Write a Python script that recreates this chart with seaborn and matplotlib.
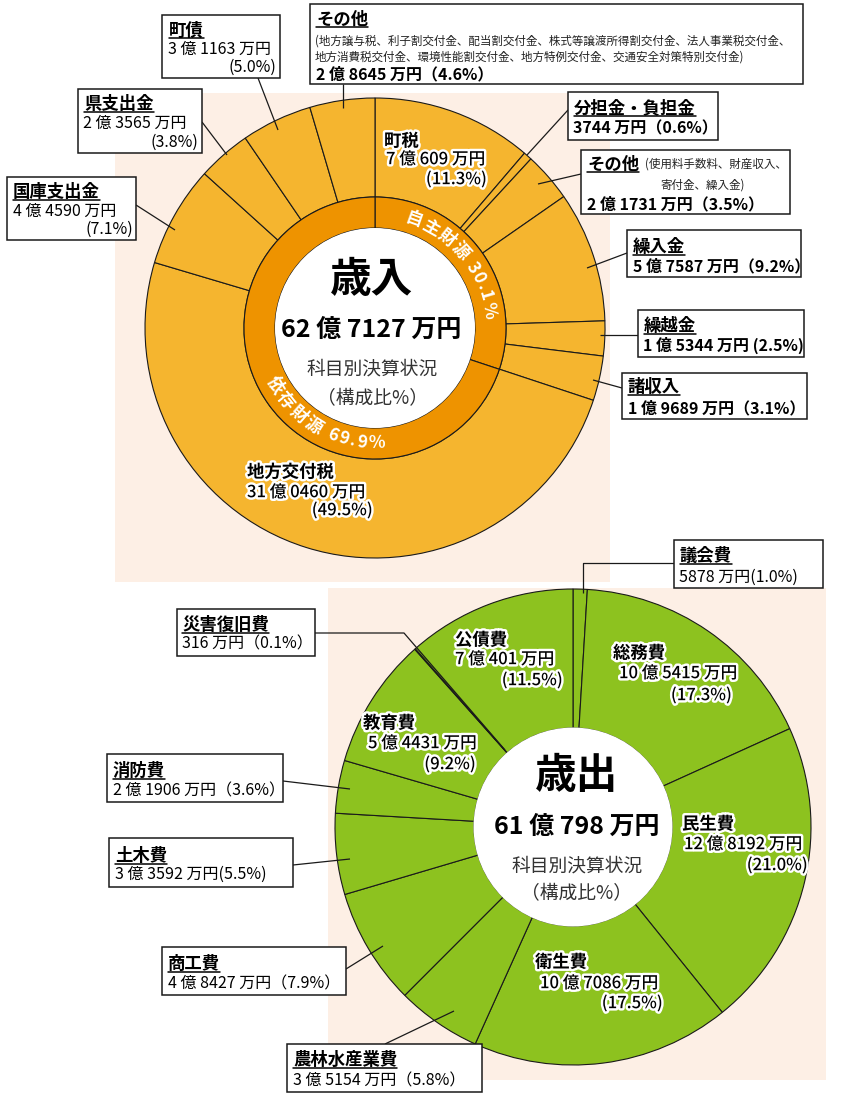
import numpy as np
import matplotlib
matplotlib.use("Agg")
import matplotlib.pyplot as plt
import matplotlib.patheffects as pe
import seaborn as sns
from matplotlib.patches import Rectangle, Circle
from matplotlib.font_manager import FontProperties

# ---- data (万円) ----
rev_labels = ["町税", "分担金・負担金", "その他", "繰入金", "繰越金", "諸収入",
              "地方交付税", "国庫支出金", "県支出金", "町債", "その他"]
rev_amounts = ["7 億 609 万円", "3744 万円", "2 億 1731 万円", "5 億 7587 万円",
               "1 億 5344 万円", "1 億 9689 万円", "31 億 0460 万円", "4 億 4590 万円",
               "2 億 3565 万円", "3 億 1163 万円", "2 億 8645 万円"]
rev_values = [70609, 3744, 21731, 57587, 15344, 19689, 310460, 44590, 23565, 31163, 28645]
rev_pcts = [11.3, 0.6, 3.5, 9.2, 2.5, 3.1, 49.5, 7.1, 3.8, 5.0, 4.6]
source_labels = ["自主財源", "依存財源"]
source_pcts = [30.1, 69.9]
rev_total = "62 億 7127 万円"
rev_note_other = ["(地方譲与税、利子割交付金、配当割交付金、株式等譲渡所得割交付金、法人事業税交付金、",
                  "地方消費税交付金、環境性能割交付金、地方特例交付金、交通安全対策特別交付金)"]
rev_note_own = ["(使用料手数料、財産収入、", "寄付金、繰入金)"]

exp_labels = ["議会費", "総務費", "民生費", "衛生費", "農林水産業費", "商工費",
              "土木費", "消防費", "教育費", "災害復旧費", "公債費"]
exp_amounts = ["5878 万円", "10 億 5415 万円", "12 億 8192 万円", "10 億 7086 万円",
               "3 億 5154 万円", "4 億 8427 万円", "3 億 3592 万円", "2 億 1906 万円",
               "5 億 4431 万円", "316 万円", "7 億 401 万円"]
exp_values = [5878, 105415, 128192, 107086, 35154, 48427, 33592, 21906, 54431, 316, 70401]
exp_pcts = [1.0, 17.3, 21.0, 17.5, 5.8, 7.9, 5.5, 3.6, 9.2, 0.1, 11.5]
exp_total = "61 億 798 万円"

# ---- style ----
sns.set_theme(style="white")
plt.rcParams["font.family"] = ["Noto Sans CJK JP", "DejaVu Sans"]

ORANGE = "#F5B52F"
DARK_ORANGE = "#EE9300"
GREEN = "#8DC21F"
PEACH = "#FDEFE5"
EDGE = "#1a1a1a"

W, H = 842, 1104
fig = plt.figure(figsize=(W / 100, H / 100), dpi=100)
ax = fig.add_axes([0, 0, 1, 1])


def Y(py):
    return H - py


def put(x, yc, s, fs, ha="left", weight="normal", color="black", stroke=False, z=6):
    # yc = glyph centre in picture pixels
    base = yc + 0.37 * fs * 100 / 72
    t = ax.text(x, Y(base), s, fontsize=fs, ha=ha, va="baseline",
                fontweight=weight, color=color, zorder=z)
    if stroke:
        t.set_path_effects([pe.withStroke(linewidth=3.5, foreground="white")])
    return t, base


def leader(pts):
    xs = [p[0] for p in pts]
    ys = [Y(p[1]) for p in pts]
    ax.plot(xs, ys, color=EDGE, lw=0.9, zorder=3, solid_capstyle="butt")


titles = []


def draw_box(lab, amt, pct, lay):
    x0, y0, x1, y1 = lay["box"]
    ax.add_patch(Rectangle((x0, Y(y1)), x1 - x0, y1 - y0, facecolor="white",
                           edgecolor=EDGE, lw=1.1, zorder=5))
    t, base = put(lay["title"][0], lay["title"][1], lab, 12.5, weight="bold")
    titles.append((t, base))
    vw = lay.get("vw", "normal")
    op, cp = lay.get("par", ("（", "）"))
    for kind, x, y, ha in lay["lines"]:
        if kind == "amt":
            s = amt
        elif kind == "pct":
            s = f"({pct:.1f}%)"
        else:
            s = f"{amt}{op}{pct:.1f}%{cp}"
        put(x, y, s, 11.5, ha=ha, weight=vw)
    for s, x, y, ha in lay.get("notes", []):
        put(x, y, s, 8.3, ha=ha, color="#222222")
    leader(lay["leader"])


def draw_inside(lab, amt, pct, lay):
    put(lay["title"][0], lay["title"][1], lab, 12.5, weight="bold", stroke=True)
    put(lay["amt"][0], lay["amt"][1], amt, 12, weight="medium", stroke=True)
    put(lay["pct"][0], lay["pct"][1], f"({pct:.1f}%)", 12, ha="right", weight="medium", stroke=True)


def arc_text(s, cx, cy, r, start, fs, clockwise=True, track=1.0):
    rend = fig.canvas.get_renderer()
    fp = FontProperties(family=["Noto Sans CJK JP", "DejaVu Sans"], weight="bold", size=fs)
    th = start
    for ch in s:
        w, _, _ = rend.get_text_width_height_descent(ch, fp, ismath=False)
        w = w + track
        d = np.degrees(w / r)
        mid = th + d / 2 if clockwise else th - d / 2
        x = cx + r * np.sin(np.radians(mid))
        y = Y(cy) + r * np.cos(np.radians(mid))
        rot = -mid if clockwise else 180 - mid
        ax.text(x, y, ch, fontproperties=fp, color="white", rotation=rot,
                rotation_mode="anchor", ha="center", va="center", zorder=4)
        th = th + d if clockwise else th - d


# ---- backgrounds ----
ax.add_patch(Rectangle((115, Y(582)), 610 - 115, 582 - 93, color=PEACH, lw=0, zorder=0))
ax.add_patch(Rectangle((328, Y(1080)), 826 - 328, 1080 - 588, color=PEACH, lw=0, zorder=0))

# ---- 歳入 ----
RCX, RCY = 375, 328
ax.pie(rev_values, radius=230, center=(RCX, Y(RCY)), startangle=90, counterclock=False,
       colors=[ORANGE] * len(rev_values),
       wedgeprops=dict(width=99, edgecolor=EDGE, linewidth=0.8))
ax.pie(source_pcts, radius=131, center=(RCX, Y(RCY)), startangle=90, counterclock=False,
       colors=[DARK_ORANGE] * 2, wedgeprops=dict(width=31, edgecolor=EDGE, linewidth=0.8))
ax.add_patch(Circle((RCX, Y(RCY)), 100, facecolor="white", edgecolor="none", zorder=2))

put(372, 277, "歳入", 30, ha="center", weight="bold")
put(371, 328, rev_total, 18, ha="center", weight="bold")
put(372, 368, "科目別決算状況", 13.5, ha="center", color="#333333")
put(372, 397, "（構成比%）", 13.5, ha="center", color="#333333")

arc_text(f"{source_labels[0]} {source_pcts[0]}%", RCX, RCY, 115, 15, 12.5, clockwise=True, track=1.5)
arc_text(f"{source_labels[1]} {source_pcts[1]}%", RCX, RCY, 115, 245, 12.5, clockwise=False, track=1.5)

rev_box_layout = {
    9: dict(box=(162, 15, 280, 78), title=(169, 29),
            lines=[("amt", 168, 48, "left"), ("pct", 276, 66, "right")],
            leader=[(258, 78), (278, 130)]),
    8: dict(box=(78, 89, 202, 153), title=(84, 103),
            lines=[("amt", 83, 122, "left"), ("pct", 198, 141, "right")],
            leader=[(202, 122), (227, 155)]),
    7: dict(box=(7, 177, 136, 240), title=(13, 191),
            lines=[("amt", 13, 210, "left"), ("pct", 133, 228, "right")],
            leader=[(136, 205), (175, 230)]),
    10: dict(box=(310, 4, 803, 84), title=(316, 18), vw="bold",
             lines=[("both", 316, 73, "left")],
             notes=[(rev_note_other[0], 315, 40, "left"), (rev_note_other[1], 315, 56, "left")],
             leader=[(343, 84), (343, 108)]),
    1: dict(box=(568, 92, 718, 140), title=(574, 107), vw="bold",
            lines=[("both", 573, 127, "left")],
            leader=[(568, 110), (527, 155)]),
    2: dict(box=(581, 150, 790, 214), title=(587, 163), vw="bold",
            lines=[("both", 587, 203, "left")],
            notes=[(rev_note_own[0], 645, 163, "left"), (rev_note_own[1], 703, 184, "center")],
            leader=[(581, 174), (538, 184)]),
    3: dict(box=(627, 230, 801, 277), title=(633, 246), vw="bold",
            lines=[("both", 633, 265, "left")],
            leader=[(627, 253), (587, 268)]),
    4: dict(box=(638, 310, 804, 357), title=(644, 325), vw="bold", par=(" (", ")"),
            lines=[("both", 643, 345, "left")],
            leader=[(638, 335), (600, 335)]),
    5: dict(box=(622, 373, 807, 419), title=(628, 386), vw="bold",
            lines=[("both", 628, 407, "left")],
            leader=[(622, 388), (593, 380)]),
}
rev_in_layout = {
    0: dict(title=(384, 140), amt=(386, 158), pct=(487, 178)),
    6: dict(title=(247, 471), amt=(247, 491), pct=(373, 509)),
}
for i, lay in rev_box_layout.items():
    draw_box(rev_labels[i], rev_amounts[i], rev_pcts[i], lay)
for i, lay in rev_in_layout.items():
    draw_inside(rev_labels[i], rev_amounts[i], rev_pcts[i], lay)

# ---- 歳出 ----
ECX, ECY = 573, 827
ax.pie(exp_values, radius=238, center=(ECX, Y(ECY)), startangle=90, counterclock=False,
       colors=[GREEN] * len(exp_values),
       wedgeprops=dict(width=139, edgecolor=EDGE, linewidth=0.8))
ax.add_patch(Circle((ECX, Y(ECY)), 99.5, facecolor="white", edgecolor="none", zorder=2))

put(577, 773, "歳出", 30, ha="center", weight="bold")
put(577, 825, exp_total, 18, ha="center", weight="bold")
put(577, 865, "科目別決算状況", 13.5, ha="center", color="#333333")
put(577, 892, "（構成比%）", 13.5, ha="center", color="#333333")

exp_box_layout = {
    0: dict(box=(674, 540, 823, 588), title=(680, 555), par=("(", ")"),
            lines=[("both", 679, 576, "left")],
            leader=[(674, 563), (583, 563), (583, 593)]),
    9: dict(box=(177, 609, 315, 656), title=(182, 624),
            lines=[("both", 182, 643, "left")],
            leader=[(315, 633), (404, 633), (505, 750)]),
    7: dict(box=(107, 754, 283, 802), title=(113, 770),
            lines=[("both", 113, 790, "left")],
            leader=[(283, 781), (350, 789)]),
    6: dict(box=(109, 838, 293, 887), title=(115, 855), par=("(", ")"),
            lines=[("both", 115, 873, "left")],
            leader=[(293, 865), (350, 859)]),
    5: dict(box=(162, 947, 346, 995), title=(168, 963),
            lines=[("both", 168, 983, "left")],
            leader=[(346, 969), (383, 946)]),
    4: dict(box=(287, 1044, 482, 1092), title=(293, 1059),
            lines=[("both", 293, 1080, "left")],
            leader=[(385, 1044), (454, 1011)]),
}
exp_in_layout = {
    10: dict(title=(455, 639), amt=(455, 658), pct=(563, 679)),
    1: dict(title=(613, 652), amt=(619, 672), pct=(732, 694)),
    2: dict(title=(682, 823), amt=(684, 843), pct=(808, 864)),
    3: dict(title=(535, 961), amt=(540, 982), pct=(663, 1002)),
    8: dict(title=(363, 722), amt=(368, 742), pct=(476, 763)),
}
for i, lay in exp_box_layout.items():
    draw_box(exp_labels[i], exp_amounts[i], exp_pcts[i], lay)
for i, lay in exp_in_layout.items():
    draw_inside(exp_labels[i], exp_amounts[i], exp_pcts[i], lay)

ax.set_xlim(0, W)
ax.set_ylim(0, H)
ax.set_aspect("equal")
ax.set_axis_off()

# underline the box titles
fig.canvas.draw()
for t, base in titles:
    bb = t.get_window_extent()
    ax.plot([bb.x0, bb.x1], [Y(base + 2.5)] * 2, color="black", lw=1.1, zorder=7)

fig.savefig("out.png", dpi=100)
